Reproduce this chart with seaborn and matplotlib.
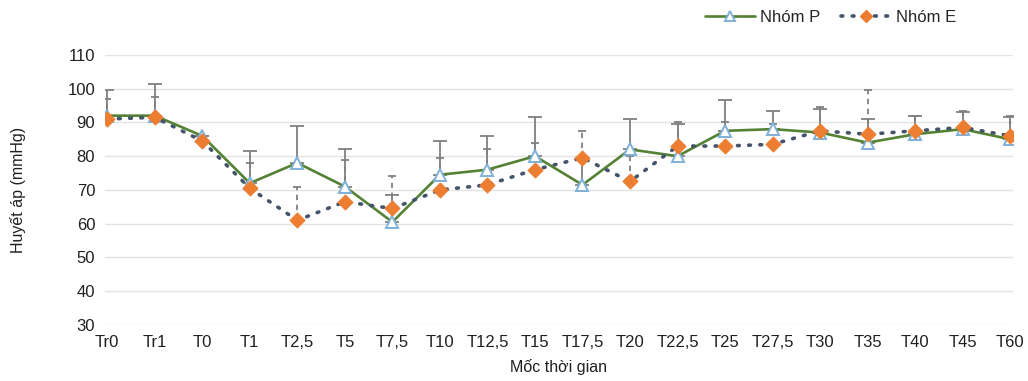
import matplotlib
matplotlib.use("Agg")
import matplotlib.pyplot as plt
import numpy as np
import pandas as pd
import seaborn as sns
from matplotlib.lines import Line2D

# time points
moc = ["Tr0", "Tr1", "T0", "T1", "T2,5", "T5", "T7,5", "T10", "T12,5", "T15",
       "T17,5", "T20", "T22,5", "T25", "T27,5", "T30", "T35", "T40", "T45", "T60"]

# mean blood pressure per group
nhom_p = [92, 92, 86, 72, 78, 71, 60.5, 74.5, 76, 80,
          71.5, 82, 80, 87.5, 88, 87, 84, 86.5, 88, 85]
nhom_e = [91, 91.5, 84.5, 70.5, 61, 66.5, 64.5, 70, 71.5, 76,
          79.5, 72.5, 83, 83, 83.5, 87.5, 86.5, 87.5, 88.5, 86]

# upper end of the error bars
tren_p = [99.5, 101.5, 86, 81.5, 89, 82, 68.5, 84.5, 86, 91.5,
          79, 91, 89.5, 96.5, 93.5, 94, 91, 92, 93, 91.5]
tren_e = [97, 97.5, 84.5, 78, 71, 79, 74, 79.5, 82, 84,
          87.5, 80, 90, 90, 89.5, 94.5, 99.5, 92, 93.5, 92]

sns.set_theme(style="white")
plt.rcParams["font.family"] = ["Liberation Sans", "DejaVu Sans"]

df = pd.DataFrame({
    "pos": np.arange(len(moc)),
    "moc": moc,
    "P": nhom_p,
    "E": nhom_e,
})

fig = plt.figure(figsize=(10.28, 3.81), dpi=100)
ax = fig.add_axes([0.102, 0.147, 0.883, 0.709])

green = "#548235"
blue_edge = "#7fb0d8"
orange = "#ed7d31"
dot_col = "#44546a"
err_col = "#808080"

# error bars (upper only)
low = np.zeros(len(moc))
eb_p = ax.errorbar(df["pos"], df["P"], yerr=[low, np.array(tren_p) - df["P"]],
                   fmt="none", ecolor=err_col, elinewidth=1.3, capsize=5, capthick=1.3, zorder=2)
eb_e = ax.errorbar(df["pos"], df["E"], yerr=[low, np.array(tren_e) - df["E"]],
                   fmt="none", ecolor=err_col, elinewidth=1.3, capsize=3, capthick=1.3, zorder=2)
for lc in eb_e.lines[2]:
    lc.set_linestyle((0, (3, 2.5)))

sns.lineplot(data=df, x="pos", y="P", ax=ax, color=green, linewidth=1.9,
             marker="^", markersize=8.5, markerfacecolor="white",
             markeredgecolor=blue_edge, markeredgewidth=1.4, zorder=3)
sns.lineplot(data=df, x="pos", y="E", ax=ax, color=dot_col, linewidth=2.6,
             linestyle=(0, (0.5, 2.6)), zorder=4)
ax.lines[-1].set_dash_capstyle("round")
sns.scatterplot(data=df, x="pos", y="E", ax=ax, color=orange, marker="D", s=60,
                edgecolor=orange, zorder=5)

ax.set_ylim(30, 110)
ax.set_yticks(range(30, 111, 10))
ax.set_xlim(-0.05, len(moc) - 0.95)
ax.set_xticks(df["pos"])
ax.set_xticklabels(moc)
ax.grid(axis="y", color="#e3e3e3", linewidth=1)
for s in ax.spines.values():
    s.set_visible(False)
ax.tick_params(axis="both", labelsize=12, length=0, pad=7, colors="#202020")
ax.set_xlabel("Mốc thời gian", fontsize=11.5, labelpad=7, color="#202020")
ax.set_ylabel("Huyết áp (mmHg)", fontsize=11.5, labelpad=30, color="#202020")

handles = [
    Line2D([], [], color=green, linewidth=1.9, marker="^", markersize=7,
           markerfacecolor="white", markeredgecolor=blue_edge, markeredgewidth=1.4),
    Line2D([], [], color=dot_col, linewidth=2.6, linestyle=(0, (0.5, 2.6)),
           dash_capstyle="round", marker="D", markersize=6,
           markerfacecolor=orange, markeredgecolor=orange),
]
fig.legend(handles, ["Nhóm P", "Nhóm E"], loc="center", ncol=2,
           bbox_to_anchor=(0.808, 0.955), frameon=False, fontsize=12,
           handlelength=3.0, columnspacing=1.3, handletextpad=0.3)

fig.savefig("out.png", dpi=100)
